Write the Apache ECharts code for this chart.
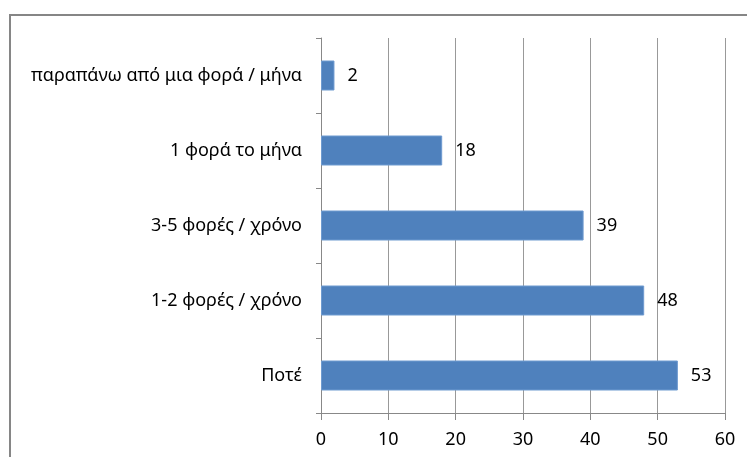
<!DOCTYPE html>
<html>
<head>
<meta charset="utf-8">
<script src="https://cdn.jsdelivr.net/npm/echarts@6/dist/echarts.min.js"></script>
<style>
  html, body { margin: 0; padding: 0; background: #fff; }
  #chart { width: 747px; height: 457px; }
</style>
</head>
<body>
<div id="chart"></div>
<script>
// Frequency categories, listed bottom to top
var categories = ['Ποτέ', '1-2 φορές / χρόνο', '3-5 φορές / χρόνο', '1 φορά το μήνα', 'παραπάνω από μια φορά / μήνα'];
var counts = [53, 48, 39, 18, 2];
var xTicks = [0, 10, 20, 30, 40, 50, 60];

var font = '"Noto Sans", "Open Sans", sans-serif';
var chart = echarts.init(document.getElementById('chart'));

chart.setOption({
  animation: false,
  grid: { left: 321, right: 22, top: 38, bottom: 44, containLabel: false },
  graphic: [{
    type: 'rect',
    shape: { x: 10, y: 15, width: 800, height: 500 },
    style: { fill: 'none', stroke: '#868686', lineWidth: 2 },
    silent: true
  }],
  xAxis: {
    type: 'value',
    min: xTicks[0],
    max: xTicks[xTicks.length - 1],
    interval: 10,
    axisLine: { show: true, lineStyle: { color: '#888', width: 1 } },
    axisTick: { show: true, length: 7, lineStyle: { color: '#888' } },
    splitLine: { show: true, lineStyle: { color: '#999', width: 1 } },
    axisLabel: { color: '#000', fontSize: 18, fontFamily: font, margin: 18 }
  },
  yAxis: {
    type: 'category',
    data: categories,
    axisLine: { show: true, lineStyle: { color: '#888', width: 1 } },
    axisTick: { show: true, length: 5, lineStyle: { color: '#888' } },
    axisLabel: { color: '#000', fontSize: 18, fontFamily: font, margin: 19 }
  },
  series: [{
    type: 'bar',
    data: counts,
    barWidth: '40%',
    itemStyle: { color: '#4F81BD', borderColor: '#6f9bd0', borderWidth: 1 },
    label: {
      show: true,
      position: 'right',
      distance: 13,
      color: '#000',
      fontSize: 18,
      fontFamily: font
    }
  }]
});
</script>
</body>
</html>
